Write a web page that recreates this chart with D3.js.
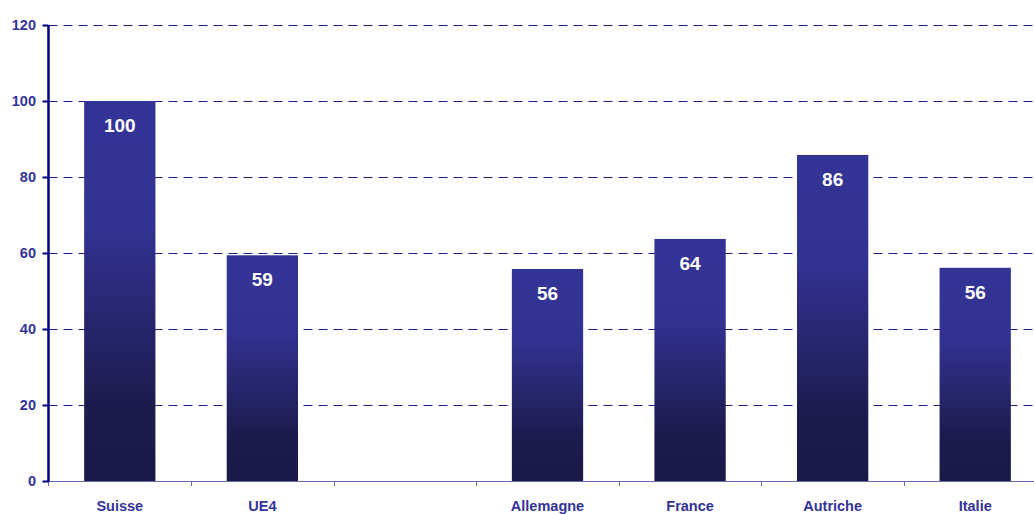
<!DOCTYPE html>
<html>
<head>
<meta charset="utf-8">
<script src="https://cdn.jsdelivr.net/npm/d3@7"></script>
<style>
html,body{margin:0;padding:0;background:#fff;overflow:hidden;}
svg{display:block;font-family:"Liberation Sans",Arial,sans-serif;}
</style>
</head>
<body>
<svg id="chart" width="1034" height="514"></svg>
<script>
const categories = ["Suisse", "UE4", " ", "Allemagne", "France", "Autriche", "Italie"];
const values = [100, 59.4, null, 55.8, 63.7, 85.8, 56.1];
const yTicks = [0, 20, 40, 60, 80, 100, 120];

const svg = d3.select("#chart");
const mLeft = 48.5, mRight = 1046.5, mTop = 25, mBottom = 481;

const x = d3.scaleBand().domain(categories).range([mLeft, mRight]).paddingInner(0.5).paddingOuter(0.25);
const y = d3.scaleLinear().domain([0, 120]).range([mBottom, mTop]);

const defs = svg.append("defs");
const grad = defs.append("linearGradient").attr("id", "barGrad")
  .attr("x1", 0).attr("y1", 0).attr("x2", 0).attr("y2", 1);
grad.append("stop").attr("offset", "0%").attr("stop-color", "#343497");
grad.append("stop").attr("offset", "33%").attr("stop-color", "#323292");
grad.append("stop").attr("offset", "80%").attr("stop-color", "#1c1b4d");
grad.append("stop").attr("offset", "100%").attr("stop-color", "#1a1846");

// gridlines
svg.append("g").selectAll("line").data(yTicks.filter(d => d > 0)).join("line")
  .attr("x1", mLeft).attr("x2", 1034)
  .attr("y1", d => Math.round(y(d)) + 0.5).attr("y2", d => Math.round(y(d)) + 0.5)
  .attr("stroke", "#1c1c8c").attr("stroke-width", 1.1).attr("stroke-dasharray", "9,6");

// bars
const data = categories.map((c, i) => ({c, v: values[i]})).filter(d => d.v != null);
svg.append("g").selectAll("rect").data(data).join("rect")
  .attr("x", d => x(d.c)).attr("width", x.bandwidth())
  .attr("y", d => y(d.v)).attr("height", d => y(0) - y(d.v))
  .attr("fill", "url(#barGrad)");

// value labels
svg.append("g").selectAll("text").data(data).join("text")
  .attr("x", d => x(d.c) + x.bandwidth() / 2)
  .attr("y", d => y(d.v) + 31)
  .attr("text-anchor", "middle")
  .attr("fill", "#ffffff").attr("font-weight", "bold").attr("font-size", "19px")
  .text(d => Math.round(d.v));

// x axis
const xAxis = svg.append("g").attr("transform", `translate(0,${mBottom})`);
xAxis.append("line").attr("x1", mLeft).attr("x2", 1034).attr("y1", 0.5).attr("y2", 0.5)
  .attr("stroke", "#6a6ab4").attr("stroke-width", 1.2);
const step = x.step();
xAxis.selectAll("line.tk").data(d3.range(categories.length + 1)).join("line").attr("class", "tk")
  .attr("x1", i => Math.round(x(categories[0]) - x.paddingOuter() * step + i * step) + 0.5)
  .attr("x2", i => Math.round(x(categories[0]) - x.paddingOuter() * step + i * step) + 0.5)
  .attr("y1", 0).attr("y2", 5)
  .attr("stroke", "#6a6ab4").attr("stroke-width", 1);
xAxis.selectAll("text").data(categories).join("text")
  .attr("x", d => x(d) + x.bandwidth() / 2)
  .attr("y", 30)
  .attr("text-anchor", "middle")
  .attr("fill", "#333399").attr("font-weight", "bold").attr("font-size", "14.5px")
  .text(d => d.trim());

// y axis
const yAxis = svg.append("g");
yAxis.append("line").attr("x1", mLeft).attr("x2", mLeft).attr("y1", mTop).attr("y2", mBottom + 1)
  .attr("stroke", "#000080").attr("stroke-width", 2.5);
yAxis.selectAll("line.tk").data(yTicks).join("line").attr("class", "tk")
  .attr("x1", mLeft - 6).attr("x2", mLeft)
  .attr("y1", d => Math.round(y(d)) + 0.5).attr("y2", d => Math.round(y(d)) + 0.5)
  .attr("stroke", "#000080").attr("stroke-width", 2);
yAxis.selectAll("text").data(yTicks).join("text")
  .attr("x", 36).attr("y", d => y(d) + 5)
  .attr("text-anchor", "end")
  .attr("fill", "#333399").attr("font-weight", "bold").attr("font-size", "14.5px")
  .text(d => d);
</script>
</body>
</html>
